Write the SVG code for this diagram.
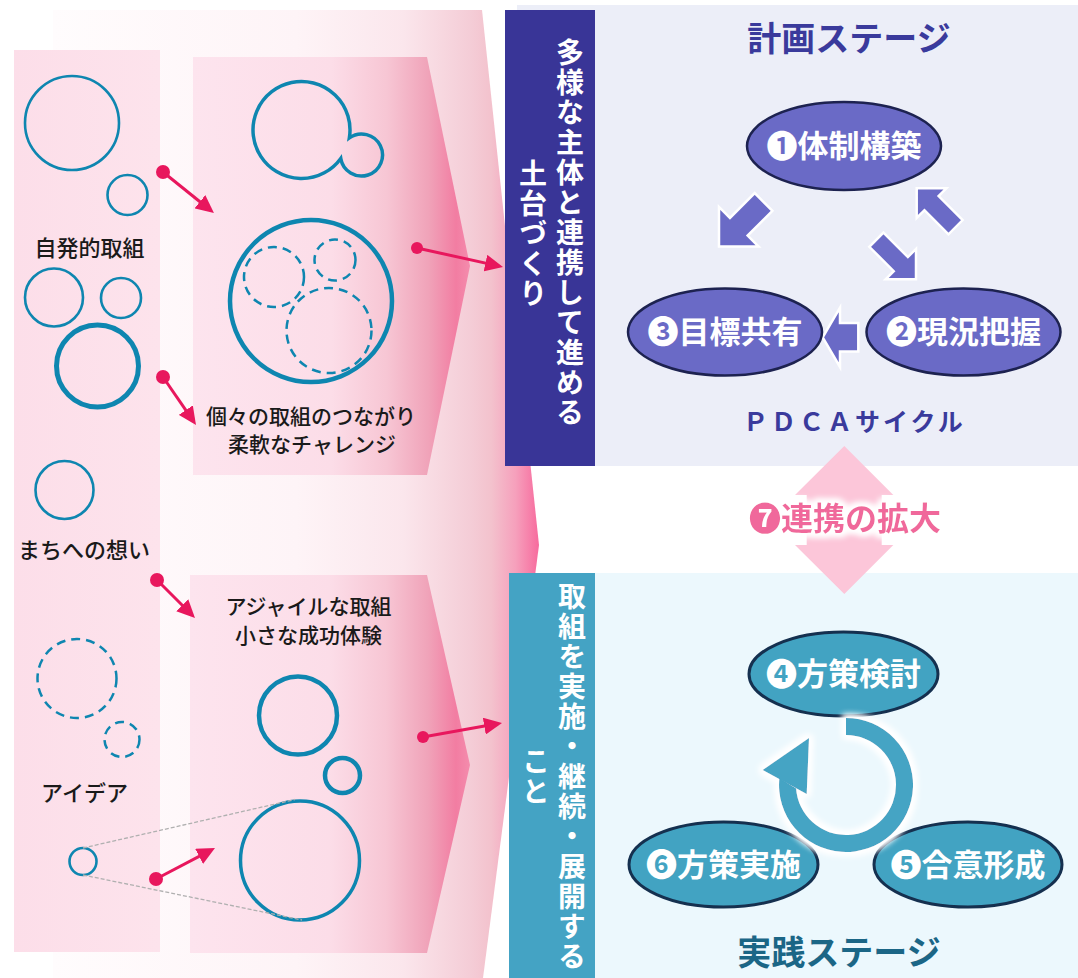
<svg xmlns="http://www.w3.org/2000/svg" width="1078" height="978" viewBox="0 0 1078 978">
<defs>
<linearGradient id="outerGrad" gradientUnits="userSpaceOnUse" x1="53" y1="0" x2="540" y2="0">
<stop offset="0" stop-color="#fffcfd"/>
<stop offset="0.5" stop-color="#fef4f7"/>
<stop offset="0.72" stop-color="#fbe6ec"/>
<stop offset="0.86" stop-color="#f4ccd6"/>
<stop offset="0.9" stop-color="#f3c2cd"/>
<stop offset="0.95" stop-color="#f6a0bc"/>
<stop offset="1" stop-color="#f7689c"/>
</linearGradient>
<linearGradient id="colGrad" x1="0" y1="0" x2="1" y2="0">
<stop offset="0" stop-color="#fcdee9"/>
<stop offset="1" stop-color="#fde3ec"/>
</linearGradient>
<linearGradient id="midGrad" x1="0" y1="0" x2="1" y2="0">
<stop offset="0" stop-color="#fde4ee"/>
<stop offset="0.5" stop-color="#fcdde8"/>
<stop offset="0.7" stop-color="#f7c6d4"/>
<stop offset="0.85" stop-color="#f0a3b9"/>
<stop offset="0.95" stop-color="#f27da2"/>
<stop offset="1" stop-color="#f48cad"/>
</linearGradient>
<marker id="ph" markerUnits="userSpaceOnUse" markerWidth="18" markerHeight="17" viewBox="0 0 18 17" refX="6" refY="8.5" orient="auto">
<path d="M0,0 L18,8.5 L0,17 Z" fill="#e8175d"/>
</marker>
<filter id="glow" x="-30%" y="-30%" width="160%" height="160%">
<feMorphology in="SourceAlpha" operator="dilate" radius="3" result="d"/>
<feGaussianBlur in="d" stdDeviation="3" result="b"/>
<feFlood flood-color="#ffffff"/>
<feComposite in2="b" operator="in" result="w"/>
<feMerge><feMergeNode in="w"/><feMergeNode in="w"/><feMergeNode in="SourceGraphic"/></feMerge>
</filter>
<style>
.jp{font-family:'Noto Sans CJK JP','Noto Sans',sans-serif}
.lbl{font-size:22px;font-weight:500;fill:#1a1a1a;text-anchor:middle}
.lbl2{font-size:21px}
.c{fill:none;stroke:#0e86b0;stroke-width:2.6}
.dash{fill:none;stroke:#0e86b0;stroke-width:2.5;stroke-dasharray:9 6}
.gray{stroke:#b0b0b0;stroke-width:1.3;stroke-dasharray:4 2;fill:none}
.pl{stroke:#e8175d;stroke-width:3;fill:none;marker-end:url(#ph)}
.pd{fill:#e8175d}
.vt{font-size:28px;font-weight:700;fill:#ffffff;text-anchor:middle;writing-mode:vertical-rl;letter-spacing:2px}
.pe{fill:#6a6ac6;stroke:#1d2250;stroke-width:2.5}
.te{fill:#42a3c2;stroke:#15304f;stroke-width:3}
.et{font-size:31px;font-weight:700;fill:#ffffff;text-anchor:middle}
.ba{fill:#6a6ac6;stroke:#ffffff;stroke-width:2.5;stroke-linejoin:miter}
.title{font-size:34px;font-weight:700;text-anchor:middle}
</style>
</defs>

<g id="background">
<polygon points="53,10 482,10 539,545 483,978 53,978" fill="url(#outerGrad)"/>
<rect x="14" y="50" width="146" height="902" fill="url(#colGrad)"/>
<polygon points="193,57 427,57 470,266 427,475 193,475" fill="url(#midGrad)"/>
<polygon points="190,575 427,575 470,765 427,953 190,953" fill="url(#midGrad)"/>
</g>

<g id="left-circles">
<circle class="c" cx="72" cy="123" r="47"/>
<circle class="c" cx="127.5" cy="195" r="20"/>
<circle class="c" cx="54" cy="297.5" r="29"/>
<circle class="c" cx="121" cy="298" r="20"/>
<circle class="c" cx="97.5" cy="366" r="41" style="stroke-width:5"/>
<circle class="c" cx="64.5" cy="490" r="29"/>
<circle class="dash" cx="77" cy="678.5" r="39.5"/>
<circle class="dash" cx="122" cy="739.5" r="17.5"/>
<circle class="c" cx="83" cy="861.5" r="13.5"/>
</g>

<g id="left-labels" class="jp">
<text class="lbl" x="89.5" y="256">自発的取組</text>
<text class="lbl" x="84" y="558">まちへの想い</text>
<text class="lbl" x="84.5" y="801">アイデア</text>
</g>

<g id="mid-top">
<path d="M349.36,137.86 A48.5,48.5 0 1 0 340.78,158.44 A21,21 0 1 0 349.36,137.86 Z" fill="none" stroke="#0e86b0" stroke-width="3.5"/>
<circle class="c" cx="311" cy="301" r="81" style="stroke-width:4.5"/>
<circle class="dash" cx="274" cy="277" r="30"/>
<circle class="dash" cx="335" cy="260" r="20.5"/>
<circle class="dash" cx="329" cy="330.5" r="42.5"/>
<text class="jp lbl lbl2"><tspan x="311" y="424">個々の取組のつながり</tspan><tspan x="312" y="452">柔軟なチャレンジ</tspan></text>
</g>

<g id="mid-bottom">
<text class="jp lbl lbl2"><tspan x="308.5" y="614">アジャイルな取組</tspan><tspan x="308.6" y="643">小さな成功体験</tspan></text>
<circle class="c" cx="298" cy="715.5" r="39" style="stroke-width:4.5"/>
<circle class="c" cx="342.5" cy="775.5" r="17.5" style="stroke-width:4.5"/>
<circle class="c" cx="300" cy="860.5" r="59.5" style="stroke-width:3.5"/>
<line class="gray" x1="83" y1="848" x2="295" y2="799.5"/>
<line class="gray" x1="83" y1="875" x2="302" y2="920"/>
</g>

<g id="connectors">
<circle class="pd" cx="163" cy="172" r="7"/>
<line class="pl" x1="163" y1="172" x2="204.6" y2="205.5"/>
<circle class="pd" cx="163" cy="377" r="7"/>
<line class="pl" x1="163" y1="377" x2="189.2" y2="415.1"/>
<circle class="pd" cx="417" cy="248" r="6"/>
<line class="pl" x1="417" y1="248" x2="491.3" y2="264.4"/>
<circle class="pd" cx="157" cy="580" r="7"/>
<line class="pl" x1="157" y1="580" x2="186.5" y2="609.5"/>
<circle class="pd" cx="423" cy="737" r="6"/>
<line class="pl" x1="423" y1="737" x2="490.2" y2="725.1"/>
<circle class="pd" cx="156" cy="879" r="7"/>
<line class="pl" x1="156" y1="879" x2="204.4" y2="853.6"/>
</g>

<g id="planning-stage">
<rect x="517" y="5" width="561" height="461" fill="#eceef8"/>
<rect x="505" y="10" width="90" height="456" fill="#393597"/>
<text class="jp vt" x="570" y="233">多様な主体と連携して進める</text>
<text class="jp vt" x="533" y="234">土台づくり</text>
<text class="jp title" x="849" y="51" fill="#3a3a9c">計画ステージ</text>
<text class="jp" x="743" y="431" font-size="25" font-weight="700" fill="#3a3a9c" letter-spacing="3">ＰＤＣＡサイクル</text>
</g>

<g id="cycle-arrows-plan">
<polygon class="ba" transform="translate(719,246.5) rotate(135)" points="-63,-12.5 -28,-12.5 -28,-28 0,0 -28,28 -28,12.5 -63,12.5"/>
<polygon class="ba" transform="translate(916.7,188.3) rotate(225)" points="-55,-10 -21,-10 -21,-21 0,0 -21,21 -21,10 -55,10"/>
<polygon class="ba" transform="translate(916,279.3) rotate(45)" points="-56,-10 -21.5,-10 -21.5,-21.5 0,0 -21.5,21.5 -21.5,10 -56,10"/>
<polygon class="ba" points="858.3,323 840,323 840,307.6 822.7,337.3 840,367 840,351.6 858.3,351.6"/>
</g>

<g id="node-1">
<ellipse class="pe" cx="844" cy="146" rx="97" ry="44"/>
<text class="jp et" x="844" y="157">❶体制構築</text>
</g>
<g id="node-2">
<ellipse class="pe" cx="963.5" cy="332" rx="97" ry="43.5"/>
<text class="jp et" x="963.5" y="343">❷現況把握</text>
</g>
<g id="node-3">
<ellipse class="pe" cx="725" cy="332" rx="97" ry="43.5"/>
<text class="jp et" x="725" y="343">❸目標共有</text>
</g>

<g id="practice-stage">
<rect x="517" y="573" width="561" height="405" fill="#ecf8fd"/>
<rect x="509" y="573" width="86" height="405" fill="#44a3c4"/>
<text class="jp vt" x="572" y="777.5">取組を実施・継続・展開する</text>
<text class="jp vt" x="536" y="777">こと</text>
<text class="jp title" x="839" y="965" fill="#1b6686">実践ステージ</text>
</g>

<g id="node-4">
<ellipse class="te" cx="843.5" cy="674" rx="94.5" ry="42"/>
<text class="jp et" x="843.5" y="685">❹方策検討</text>
</g>
<g id="node-6">
<ellipse class="te" cx="723.5" cy="864.5" rx="94.5" ry="42.5"/>
<text class="jp et" x="723.5" y="876">❻方策実施</text>
</g>
<g id="node-5">
<ellipse class="te" cx="968" cy="864.5" rx="94" ry="42.5"/>
<text class="jp et" x="968" y="876">❺合意形成</text>
</g>

<g id="cycle-ring" filter="url(#glow)">
<path d="M846,718 A67,67 0 1 1 779.4,778 L796.1,788.5 A50,50 0 1 0 846,735 Z" fill="#44a4c4"/>
<polygon points="809,738 762.7,770 806.7,794" fill="#44a4c4"/>
</g>

<g id="link-expand">
<polygon points="844.3,446 893.3,495 881.7,495 881.7,545 893.3,545 844.3,594 795,545 806.7,545 806.7,495 795,495" fill="#fcc6d9"/>
<text class="jp" x="845" y="530" font-size="32" font-weight="700" fill="#f0679b" text-anchor="middle" filter="url(#glow)">❼連携の拡大</text>
</g>
</svg>
